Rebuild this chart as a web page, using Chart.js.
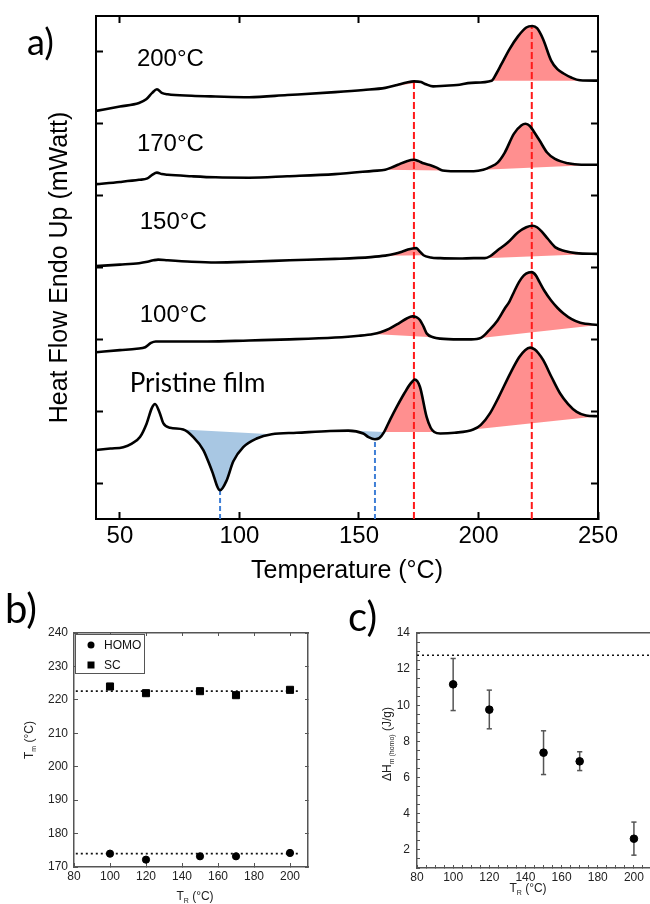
<!DOCTYPE html>
<html><head><meta charset="utf-8">
<script src="https://cdn.jsdelivr.net/npm/chart.js@4.4.1/dist/chart.umd.min.js"></script>
<style>
html,body{margin:0;padding:0;background:#fff;width:650px;height:904px;overflow:hidden;position:relative;}
canvas{position:absolute;}
.lab{position:absolute;font-family:Lato,'Open Sans',sans-serif;line-height:1;color:#000;z-index:5;}
</style></head><body>
<canvas id="ca" width="650" height="590" style="left:0;top:0;width:650px;height:590px"></canvas>
<canvas id="cb" width="330" height="314" style="left:0;top:590px;width:330px;height:314px"></canvas>
<canvas id="cc" width="340" height="314" style="left:330px;top:590px;width:340px;height:314px"></canvas>
<div class="lab" style="left:27px;top:23px;font-size:36px">a)</div>
<div class="lab" style="left:5px;top:588px;font-size:40px">b)</div>
<div class="lab" style="left:348px;top:596px;font-size:40px">c)</div>
<script>
// ---------- Panel a data (DSC heating curves) ----------
const tempTicks = [50, 100, 150, 200, 250];
const tempTopTicks = [50, 100, 150, 200];
const heatTicks = [0.5, 1.5, 2.5, 3.5, 4.5, 5.5, 6.5];
const curveNames = ['200°C', '170°C', '150°C', '100°C', 'Pristine film'];

const temp200 = [40,50,58,61,63.5,65.5,67.5,70,80,90,104,120,140,152,161,166,170,173,176,178,181,186,191,197,205.5,207.5,209.6,213,216.6,220,222.5,224.5,227,230.4,233,235.6,239,242.5,250];
const heat200 = [5.68,5.74,5.79,5.84,5.93,5.98,5.93,5.91,5.89,5.88,5.87,5.90,5.94,5.97,6.00,6.04,6.075,6.09,6.08,6.05,6.02,6.03,6.04,6.07,6.10,6.20,6.33,6.54,6.72,6.84,6.86,6.83,6.68,6.38,6.26,6.20,6.14,6.105,6.10];

const temp170 = [40,50,58,61.5,63.5,65.5,67.5,70,80,90,104,120,140,156,161,163.5,166.3,170,173,175,177,180.2,182.5,185,190,198,202,205,208,211,214.8,218,219.7,221.5,223,225.5,228.7,232,237.4,243,250];
const heat170 = [4.66,4.69,4.72,4.74,4.79,4.82,4.80,4.79,4.77,4.755,4.75,4.77,4.80,4.845,4.86,4.89,4.93,4.98,5.00,4.98,4.95,4.92,4.89,4.85,4.84,4.84,4.86,4.90,4.96,5.10,5.36,5.48,5.50,5.47,5.40,5.27,5.10,5.01,4.95,4.93,4.93];

const temp150 = [40,50,58,61.5,64,66,70,80,90,104,121,140,155,161,165,168,170.5,172.5,174,175.5,177,180,184,192,198,202.7,205,208,212,216.6,220,222.6,224.5,226.5,229,232.2,236,240.8,250];
const heat150 = [3.52,3.54,3.56,3.58,3.60,3.61,3.60,3.58,3.57,3.58,3.60,3.62,3.645,3.665,3.69,3.72,3.75,3.765,3.77,3.72,3.67,3.64,3.63,3.625,3.63,3.63,3.66,3.74,3.84,3.99,4.06,4.08,4.06,4.00,3.90,3.78,3.73,3.70,3.69];

const temp100 = [40,50,57,60.6,63,65,70,86.6,104,121,140,150,156,159,162.8,167,170,172.3,174,175.5,177,178.4,181,184,192,197,201,204.4,207.9,211,213,215,217,219,221,222.3,224,225.5,227.5,230.4,233,235.6,239,242.6,250];
const heat100 = [2.32,2.35,2.37,2.39,2.45,2.47,2.47,2.47,2.485,2.50,2.525,2.55,2.575,2.60,2.65,2.73,2.79,2.82,2.81,2.77,2.68,2.58,2.53,2.51,2.50,2.50,2.52,2.625,2.76,2.93,3.03,3.17,3.30,3.39,3.43,3.435,3.39,3.30,3.18,3.04,2.94,2.86,2.78,2.73,2.70];

const tempPristine = [40,46,51.4,55,58.4,61.2,63.3,64.7,66.5,68.2,71,76.5,80.7,84.9,88.4,91.9,94.7,97.4,101.6,107.2,113.5,124,137.9,145.5,151.8,154,156.7,158.5,160.5,163,165.8,169,171.5,173.4,175.5,178.3,180,181.5,184,190,197.8,201,204.8,208.5,213.2,217,219.5,221.6,223.5,225,227.1,230.5,234.1,237.5,241.1,245,250];
const heatPristine = [0.96,0.98,1.00,1.05,1.14,1.33,1.54,1.60,1.49,1.33,1.27,1.245,1.14,0.96,0.68,0.40,0.54,0.80,1.00,1.12,1.18,1.20,1.225,1.23,1.19,1.14,1.11,1.125,1.21,1.38,1.56,1.75,1.88,1.94,1.84,1.42,1.27,1.21,1.19,1.20,1.245,1.31,1.47,1.70,2.02,2.25,2.35,2.385,2.36,2.31,2.21,1.98,1.75,1.60,1.49,1.44,1.43];

// integration regions: [curve index, start T, end T, kind]
const peakRegions = [
  [0,161,176,'melt'],[0,205.5,250,'melt'],
  [1,161,185,'melt'],[1,202,250,'melt'],
  [2,161,177,'melt'],[2,202.7,250,'melt'],
  [3,156,181,'melt'],[3,201,250,'melt'],
  [4,76.5,113.5,'cryst'],[4,145.5,160.5,'cryst'],[4,160.5,181.5,'melt'],[4,197.8,250,'melt']
];
// peak marker lines
const meltPeakT = [173, 222.3];
const meltPeakTop = [6.09, 6.86];
const crystPeakT = [91.9, 156.7];
const crystPeakTop = [0.40, 1.11];
// curve label anchor (T, heat flow)
const labelT = [57.1, 57.1, 58.3, 58.3, 54.1];
const labelH = [6.40, 5.21, 4.125, 2.84, 1.89];

// ---------- Panel b data ----------
const tR_b = [100, 120, 150, 170, 200];
const tmHomo = [174.0, 172.2, 173.2, 173.2, 174.2];
const tmSC = [224.0, 222.0, 222.6, 221.4, 223.0];
const tmHomoMean = 174.0;
const tmSCMean = 222.6;
const tmRefRange = [81, 205];
const bXTicks = [80, 100, 120, 140, 160, 180, 200];
const bXTopTicks = [100, 120, 140, 160, 180, 200];
const bYTicks = [170, 180, 190, 200, 210, 220, 230, 240];

// ---------- Panel c data ----------
const tR_c = [100, 120, 150, 170, 200];
const dHm = [11.16, 9.76, 7.38, 6.90, 2.62];
const dHmLow = [9.71, 8.70, 6.17, 6.39, 1.71];
const dHmHigh = [12.59, 10.84, 8.59, 7.43, 3.54];
const dHmPristine = 12.77;
const cXTicks = []; for (let v = 80; v <= 210; v += 5) cXTicks.push(v);
const cYTicks = []; for (let v = 1; v <= 14; v += 0.5) cYTicks.push(v);

// ---------- helpers ----------
const ARIAL = "'Liberation Sans', Arial, sans-serif";
Chart.defaults.font.family = ARIAL;
const pts = (xs, ys) => xs.map((x, i) => ({x: x, y: ys[i]}));
const setTicks = vals => s => { s.ticks = vals.map(v => ({value: v})); };
function axis(pos, min, max, tickVals, size, o) {
  o = o || {};
  const horiz = pos === 'top' || pos === 'bottom';
  return {
    type: 'linear', position: pos, min: min, max: max, bounds: 'data',
    afterBuildTicks: setTicks(tickVals),
    afterFit: s => { if (horiz) s.height = size; else s.width = size; },
    ticks: Object.assign({display: false, autoSkip: false, maxRotation: 0, color: '#000'}, o.ticks || {}),
    grid: {display: true, drawOnChartArea: false, drawTicks: true, tickLength: -(o.tl || 7), tickWidth: o.tw || 2, tickColor: o.color || '#000'},
    border: {display: true, color: o.color || '#000', width: o.bw || 2},
    title: o.title || {display: false}
  };
}
function drawRich(ctx, parts, cx, cy, rot, color) {
  ctx.save();
  ctx.translate(cx, cy);
  ctx.rotate(rot);
  let total = 0;
  parts.forEach(p => { ctx.font = p.s + 'px ' + ARIAL; p.w = ctx.measureText(p.t).width; total += p.w; });
  let x = -total / 2;
  ctx.textBaseline = 'alphabetic';
  ctx.textAlign = 'left';
  ctx.fillStyle = color;
  parts.forEach(p => { ctx.font = p.s + 'px ' + ARIAL; ctx.fillText(p.t, x, p.dy || 0); x += p.w; });
  ctx.restore();
}

// ---------- Panel a ----------
const curveT = [temp200, temp170, temp150, temp100, tempPristine];
const curveH = [heat200, heat170, heat150, heat100, heatPristine];
const aDatasets = [];
curveT.forEach((ts, i) => {
  aDatasets.push({label: curveNames[i], data: pts(ts, curveH[i]), borderColor: '#000', borderWidth: 2.6,
    pointRadius: 0, cubicInterpolationMode: 'monotone', fill: false, order: 0});
});
meltPeakT.forEach((t, i) => {
  aDatasets.push({data: [{x: t, y: 0}, {x: t, y: meltPeakTop[i]}], borderColor: '#ff1a1a', borderWidth: 2,
    borderDash: [7, 3], pointRadius: 0, fill: false, order: 1});
});
crystPeakT.forEach((t, i) => {
  aDatasets.push({data: [{x: t, y: 0}, {x: t, y: crystPeakTop[i]}], borderColor: '#3f7fd6', borderWidth: 2,
    borderDash: [5, 3], pointRadius: 0, fill: false, order: 1});
});
peakRegions.forEach(r => {
  const ts = curveT[r[0]], hs = curveH[r[0]];
  const d = [];
  ts.forEach((t, k) => { if (t >= r[1] && t <= r[2]) d.push({x: t, y: hs[k]}); });
  aDatasets.push({data: d, borderWidth: 0, borderColor: 'rgba(0,0,0,0)', pointRadius: 0,
    cubicInterpolationMode: 'monotone', fill: 'shape',
    backgroundColor: r[3] === 'melt' ? 'rgba(255,100,100,0.72)' : 'rgb(168,199,227)', order: 2});
});

const curveLabelPlugin = {
  id: 'curveLabels',
  afterDatasetsDraw(chart) {
    const {ctx, scales: {x, y}} = chart;
    ctx.save();
    ctx.fillStyle = '#000';
    ctx.textBaseline = 'middle';
    ctx.textAlign = 'left';
    curveNames.forEach((n, i) => {
      ctx.font = i === 4 ? "26px Lato, 'Open Sans', sans-serif" : '24px ' + ARIAL;
      ctx.fillText(n, x.getPixelForValue(labelT[i]), y.getPixelForValue(labelH[i]));
    });
    ctx.restore();
  }
};

new Chart(document.getElementById('ca'), {
  type: 'line',
  data: {datasets: aDatasets},
  options: {
    responsive: false, animation: false, events: [], devicePixelRatio: 1,
    layout: {padding: 0},
    plugins: {legend: {display: false}, tooltip: {enabled: false}},
    scales: {
      x: axis('bottom', 40, 250, tempTicks, 71, {
        ticks: {display: true, font: {size: 24}, padding: 10, color: '#000'},
        title: {display: true, text: 'Temperature (°C)', color: '#000', font: {size: 25}, padding: {top: 0, bottom: 4}}
      }),
      x2: axis('top', 40, 250, tempTopTicks, 16),
      y: axis('left', 0, 7, heatTicks, 96, {
        title: {display: true, text: 'Heat Flow Endo Up (mWatt)', color: '#000', font: {size: 25}, padding: {top: 45, bottom: 0}}
      }),
      y2: axis('right', 0, 7, heatTicks, 52)
    }
  },
  plugins: [curveLabelPlugin]
});

// ---------- Panel b ----------
const legendBoxPlugin = {
  id: 'legendBox',
  afterDraw(chart) {
    const ctx = chart.ctx;
    ctx.save();
    ctx.fillStyle = '#fff';
    ctx.fillRect(75, 44, 70, 40);
    ctx.strokeStyle = '#555';
    ctx.lineWidth = 1;
    ctx.strokeRect(75.5, 44.5, 69, 39);
    const ds = chart.data.datasets;
    ctx.fillStyle = '#000';
    ctx.beginPath(); ctx.arc(91, 55, 3.5, 0, Math.PI * 2); ctx.fill();
    ctx.fillRect(87.5, 71.5, 7, 7);
    ctx.font = '12px ' + ARIAL;
    ctx.textBaseline = 'middle';
    ctx.fillStyle = '#111';
    ctx.fillText(ds[0].label, 104, 55.5);
    ctx.fillText(ds[1].label, 104, 75.5);
    drawRich(ctx, [{t: 'T', s: 12}, {t: 'm', s: 7, dy: 3}, {t: ' (°C)', s: 12}], 32.5, 150, -Math.PI / 2, '#222');
    drawRich(ctx, [{t: 'T', s: 12}, {t: 'R', s: 7, dy: 3}, {t: ' (°C)', s: 12}], 195, 310, 0, '#222');
    ctx.restore();
  }
};
const gOpt = {color: '#555', bw: 1.5, tw: 1, tl: 4};
new Chart(document.getElementById('cb'), {
  type: 'scatter',
  data: {datasets: [
    {label: 'HOMO', data: pts(tR_b, tmHomo), pointStyle: 'circle', pointRadius: 3.6, backgroundColor: '#000', borderColor: '#000'},
    {label: 'SC', data: pts(tR_b, tmSC), pointStyle: 'rect', pointRadius: 5, backgroundColor: '#000', borderColor: '#000'},
    {type: 'line', data: pts(tmRefRange, [tmHomoMean, tmHomoMean]), borderColor: '#111', borderWidth: 1.6, borderDash: [2, 3], pointRadius: 0},
    {type: 'line', data: pts(tmRefRange, [tmSCMean, tmSCMean]), borderColor: '#111', borderWidth: 1.6, borderDash: [2, 3], pointRadius: 0}
  ]},
  options: {
    responsive: false, animation: false, events: [], devicePixelRatio: 1,
    layout: {padding: 0},
    plugins: {legend: {display: false}, tooltip: {enabled: false}},
    scales: {
      x: axis('bottom', 80, 210, bXTicks, 37, Object.assign({}, gOpt, {ticks: {display: true, font: {size: 12}, padding: 6, color: '#222'}})),
      x2: axis('top', 80, 210, bXTopTicks, 43, Object.assign({}, gOpt, {tl: 3})),
      y: axis('left', 170, 240, bYTicks, 74, Object.assign({}, gOpt, {ticks: {display: true, font: {size: 12}, padding: 10, color: '#222'}})),
      y2: axis('right', 170, 240, bYTicks, 22, Object.assign({}, gOpt, {tl: 3}))
    }
  },
  plugins: [legendBoxPlugin]
});

// ---------- Panel c ----------
const errData = [];
tR_c.forEach((t, i) => { errData.push({x: t, y: dHmLow[i]}, {x: t, y: dHmHigh[i]}, {x: t, y: null}); });
const cTitlePlugin = {
  id: 'cTitles',
  afterDraw(chart) {
    const ctx = chart.ctx;
    drawRich(ctx, [{t: 'ΔH', s: 12}, {t: 'm (homo)', s: 7, dy: 3}, {t: ' (J/g)', s: 12}], 61, 154, -Math.PI / 2, '#222');
    drawRich(ctx, [{t: 'T', s: 12}, {t: 'R', s: 7, dy: 3}, {t: ' (°C)', s: 12}], 198, 302, 0, '#222');
  }
};
new Chart(document.getElementById('cc'), {
  type: 'scatter',
  data: {datasets: [
    {label: 'ΔHm(homo)', data: pts(tR_c, dHm), pointStyle: 'circle', pointRadius: 3.8, backgroundColor: '#000', borderColor: '#000', order: 0},
    {type: 'line', data: errData, borderColor: '#555', borderWidth: 1.5, spanGaps: false, pointStyle: 'line', pointRadius: 2.6, pointBorderWidth: 1.5, pointBorderColor: '#555', order: 1},
    {type: 'line', data: pts([80, 210], [dHmPristine, dHmPristine]), borderColor: '#111', borderWidth: 1.6, borderDash: [2, 3], pointRadius: 0, order: 1}
  ]},
  options: {
    responsive: false, animation: false, events: [], devicePixelRatio: 1,
    layout: {padding: 0},
    plugins: {legend: {display: false}, tooltip: {enabled: false}},
    scales: {
      x: axis('bottom', 80, 210, cXTicks, 36, Object.assign({}, gOpt, {tl: 3, ticks: {display: true, font: {size: 12}, padding: 5, color: '#222',
        callback: v => (v % 20 === 0 && v <= 200 ? String(v) : '')}})),
      x2: axis('top', 80, 210, [], 43, gOpt),
      y: axis('left', 1, 14, cYTicks, 87, Object.assign({}, gOpt, {tl: 3, ticks: {display: true, font: {size: 12}, padding: 10, color: '#222',
        callback: v => (v % 2 === 0 ? String(v) : '')}})),
      y2: axis('right', 1, 14, [], 18, gOpt)
    }
  },
  plugins: [cTitlePlugin]
});
</script>
</body></html>
